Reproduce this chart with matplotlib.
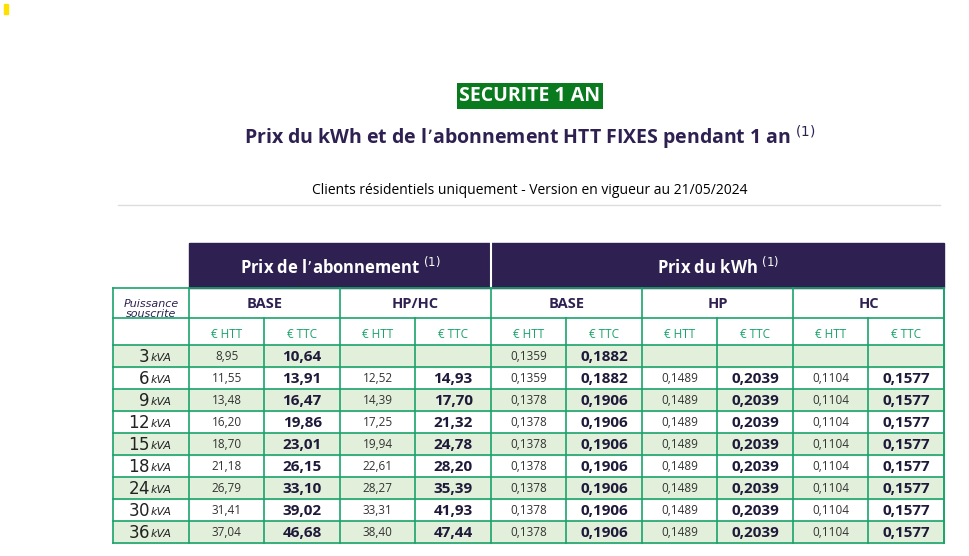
import matplotlib.pyplot as plt
from matplotlib.patches import Rectangle

puissances = ["3", "6", "9", "12", "15", "18", "24", "30", "36"]
base_htt = ["8,95", "11,55", "13,48", "16,20", "18,70", "21,18", "26,79", "31,41", "37,04"]
base_ttc = ["10,64", "13,91", "16,47", "19,86", "23,01", "26,15", "33,10", "39,02", "46,68"]
hphc_htt = ["", "12,52", "14,39", "17,25", "19,94", "22,61", "28,27", "33,31", "38,40"]
hphc_ttc = ["", "14,93", "17,70", "21,32", "24,78", "28,20", "35,39", "41,93", "47,44"]
kwh_base_htt = ["0,1359", "0,1359", "0,1378", "0,1378", "0,1378", "0,1378", "0,1378", "0,1378", "0,1378"]
kwh_base_ttc = ["0,1882", "0,1882", "0,1906", "0,1906", "0,1906", "0,1906", "0,1906", "0,1906", "0,1906"]
hp_htt = [""] + ["0,1489"] * 8
hp_ttc = [""] + ["0,2039"] * 8
hc_htt = [""] + ["0,1104"] * 8
hc_ttc = [""] + ["0,1577"] * 8
columns = [base_htt, base_ttc, hphc_htt, hphc_ttc, kwh_base_htt, kwh_base_ttc,
           hp_htt, hp_ttc, hc_htt, hc_ttc]
groups = ["BASE", "HP/HC", "BASE", "HP", "HC"]

purple = "#2e2152"
green = "#1aa36b"
light = "#e2efda"

fig = plt.figure(figsize=(9.69, 5.56), dpi=100)
ax = fig.add_axes([0, 0, 1, 1])
ax.set_xlim(0, 969)
ax.set_ylim(556, 0)
ax.axis("off")

ax.add_patch(Rectangle((4, 4), 4, 10, color="#ffe000"))

# titles
ax.text(530, 96, "SECURITE 1 AN", ha="center", va="center", color="white",
        fontsize=14, fontweight="bold", family="Open Sans",
        bbox=dict(boxstyle="square,pad=0.15", fc="#0a7a1e", ec="none"))
ax.text(530, 138, "Prix du kWh et de l’abonnement HTT FIXES pendant 1 an $^{(1)}$",
        ha="center", va="center", color=purple, fontsize=14, fontweight="bold",
        family="Open Sans")
ax.text(530, 191, "Clients résidentiels uniquement - Version en vigueur au 21/05/2024",
        ha="center", va="center", color="black", fontsize=10, family="Open Sans")
ax.plot([118, 940], [205, 205], color="#dddddd", lw=1)

x0 = 189
cw = 75.5
xs = [x0 + i * cw for i in range(11)]

# dark header
ax.add_patch(Rectangle((x0, 243), 10 * cw, 45, color=purple))
ax.plot([xs[4], xs[4]], [243, 288], color="white", lw=1.5)
ax.text((xs[0] + xs[4]) / 2, 267, "Prix de l’abonnement $^{(1)}$", ha="center", va="center",
        color="white", fontsize=12, fontweight="bold", family="Open Sans")
ax.text((xs[4] + xs[10]) / 2, 267, "Prix du kWh $^{(1)}$", ha="center", va="center",
        color="white", fontsize=12, fontweight="bold", family="Open Sans")

# group row
y1, y2, y3 = 288, 318, 345
rh = 22
for g in range(5):
    ax.text((xs[2 * g] + xs[2 * g + 2]) / 2, 304, groups[g], ha="center", va="center",
            color=purple, fontsize=10.5, fontweight="bold", family="Open Sans")
ax.text(151, 309, "Puissance\nsouscrite", ha="center", va="center", color=purple,
        fontsize=8, style="italic", linespacing=1.0)
for i in range(10):
    ax.text((xs[i] + xs[i + 1]) / 2, 335, "€ HTT" if i % 2 == 0 else "€ TTC",
            ha="center", va="center", color=green, fontsize=8.5, family="Open Sans")

# data rows
for r, p in enumerate(puissances):
    top = y3 + r * rh
    if r % 2 == 0:
        ax.add_patch(Rectangle((113, top), xs[10] - 113, rh, color=light, zorder=0))
    ax.text(151, top + rh / 2 + 1, f"$\\it{{{p}}}$ ", ha="right", va="center",
            color="#222222", fontsize=12)
    ax.text(151, top + rh / 2 + 2, "kVA", ha="left", va="center", color="#222222",
            fontsize=8, style="italic")
    for c, col in enumerate(columns):
        bold = c % 2 == 1
        ax.text((xs[c] + xs[c + 1]) / 2, top + rh / 2 + 1, col[r], ha="center", va="center",
                color="#333333" if not bold else "#1f1a3a",
                fontsize=11 if bold else 8.5, fontweight="bold" if bold else "normal",
                family="Open Sans")

bottom = y3 + 9 * rh
lw = 1.2
# horizontal lines
ax.plot([113, xs[10]], [y1, y1], color=green, lw=lw)
for y in [y2] + [y3 + r * rh for r in range(10)]:
    ax.plot([113, xs[10]], [y, y], color=green, lw=lw)
# vertical lines
for x in [113, xs[10]]:
    ax.plot([x, x], [y1, bottom], color=green, lw=lw)
for i in range(0, 11, 2):
    ax.plot([xs[i], xs[i]], [y1, bottom], color=green, lw=lw)
for i in range(1, 10, 2):
    ax.plot([xs[i], xs[i]], [y2, bottom], color=green, lw=lw)

fig.savefig("out.png", dpi=100)
